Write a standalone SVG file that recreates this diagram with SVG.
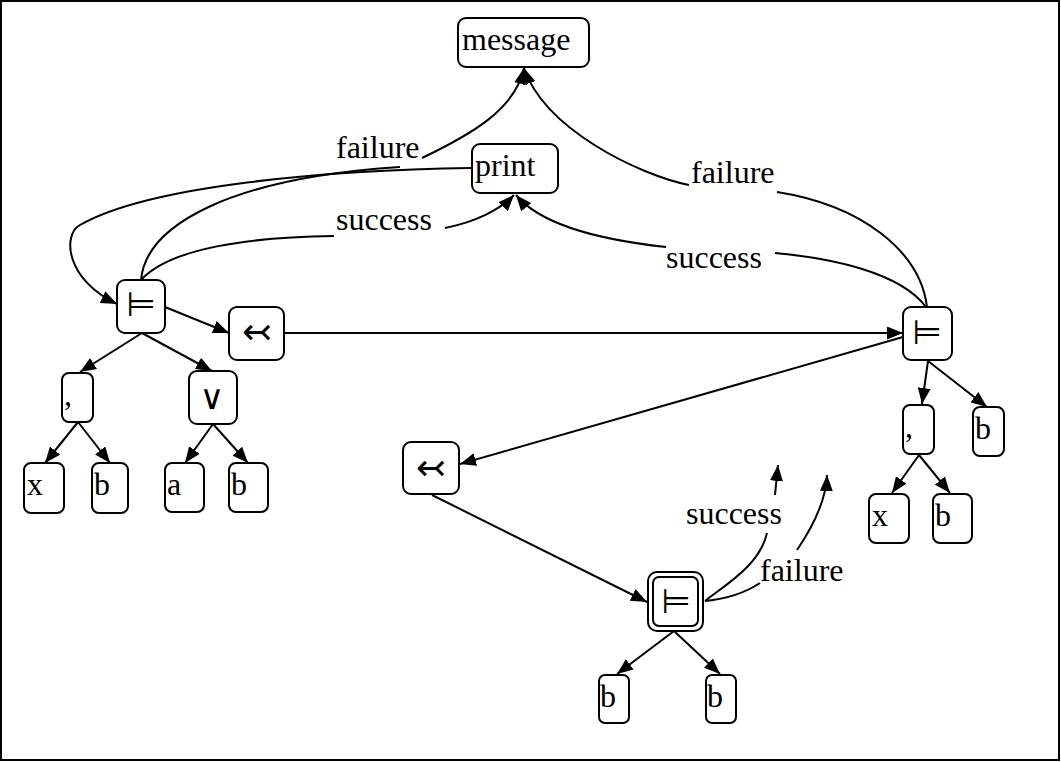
<svg xmlns="http://www.w3.org/2000/svg" width="1061" height="762" viewBox="0 0 1061 762">
<style>
.box{fill:#fff;stroke:#000;stroke-width:2}
.t{font-family:"Liberation Serif","Times New Roman",serif;font-size:32px;fill:#000}
.s{font-family:"DejaVu Sans",sans-serif;font-size:34px;fill:#000;text-anchor:middle;dominant-baseline:central}
.e{fill:none;stroke:#000;stroke-width:2}
.a{marker-end:url(#ah)}
</style>
<defs>
<marker id="ah" markerUnits="userSpaceOnUse" markerWidth="17" markerHeight="13" refX="16" refY="6.5" orient="auto">
<path d="M0,0 L16,6.5 L0,13 z" fill="#000"/>
</marker>
</defs>
<rect x="1" y="1" width="1058" height="759" fill="#fff" stroke="#000" stroke-width="2"/>
<g id="connectors">
<path class="e a" d="M142,333 L80,372"/>
<path class="e a" d="M142,333 L212,371"/>
<path class="e a" d="M78,422 L45,463"/>
<path class="e a" d="M78,422 L110,463"/>
<path class="e a" d="M213,424 L185,463"/>
<path class="e a" d="M213,424 L248,463"/>
<path class="e a" d="M165,307 L229,333"/>
<path class="e a" d="M284,333 L903,333"/>
<path class="e a" d="M903,337 L460,464"/>
<path class="e a" d="M432,495 L647,602"/>
<path class="e a" d="M674,631 L617,674"/>
<path class="e a" d="M674,631 L720,674"/>
<path class="e a" d="M928,361 L922,404"/>
<path class="e a" d="M928,361 L987,407"/>
<path class="e a" d="M919,455 L892,493"/>
<path class="e a" d="M919,455 L950,493"/>
<!-- left success -->
<path class="e" d="M141,280 C170,248 250,237 334,236"/>
<path class="e a" d="M445,228 C475,222 500,210 514,195"/>
<!-- left failure -->
<path class="e" d="M141,280 C146,225 230,178 400,167"/>
<path class="e a" d="M422,158 C470,135 515,110 524,68"/>
<!-- print back to left turnstile -->
<path class="e a" d="M472,168 C330,170 150,185 80,225 C62,235 66,280 117,304"/>
<!-- right failure -->
<path class="e" d="M927,307 C920,250 860,205 777,192"/>
<path class="e a" d="M689,185 C640,175 545,130 524,68"/>
<!-- right success -->
<path class="e" d="M926,307 C900,272 830,258 775,253"/>
<path class="e a" d="M666,247 C620,242 545,230 516,195"/>
<!-- bottom success -->
<path class="e" d="M705,601 C725,585 760,565 767,533"/>
<path class="e a" d="M775,495 L778,465"/>
<!-- bottom failure -->
<path class="e" d="M705,601 C725,599 745,593 760,583"/>
<path class="e a" d="M797,550 C812,528 826,500 827,475"/>
</g>
<g id="labels">
<text class="t" x="336" y="158">failure</text>
<text class="t" x="336" y="230">success</text>
<text class="t" x="691" y="183">failure</text>
<text class="t" x="666" y="268">success</text>
<text class="t" x="686" y="524">success</text>
<text class="t" x="760" y="581">failure</text>
</g>
<g id="message"><rect class="box" x="458" y="18" width="131" height="49" rx="8"/><text class="t" x="462" y="50">message</text></g>
<g id="print"><rect class="box" x="472" y="144" width="86" height="49" rx="8"/><text class="t" x="475" y="176">print</text></g>
<g id="turnstile-left"><rect class="box" x="117" y="280" width="48" height="53" rx="8"/><text class="s" x="141" y="304">⊨</text></g>
<g id="tail-left"><rect class="box" x="229" y="307" width="55" height="53" rx="8"/><text class="s" x="257" y="331" style="font-size:36px">↢</text></g>
<g id="turnstile-right"><rect class="box" x="903" y="307" width="49" height="53" rx="8"/><text class="s" x="927" y="332">⊨</text></g>
<g id="comma-left"><rect class="box" x="62" y="373" width="31" height="49" rx="7"/><text class="t" x="64" y="405">,</text></g>
<g id="or"><rect class="box" x="189" y="371" width="48" height="53" rx="8"/><text class="s" x="212" y="397" style="font-size:34px">∨</text></g>
<g id="x-left"><rect class="box" x="24" y="463" width="40" height="50" rx="7"/><text class="t" x="27" y="495">x</text></g>
<g id="b-left1"><rect class="box" x="92" y="463" width="36" height="50" rx="7"/><text class="t" x="94" y="495">b</text></g>
<g id="a-left"><rect class="box" x="165" y="463" width="39" height="49" rx="7"/><text class="t" x="167" y="495">a</text></g>
<g id="b-left2"><rect class="box" x="229" y="463" width="39" height="49" rx="7"/><text class="t" x="231" y="495">b</text></g>
<g id="tail-mid"><rect class="box" x="403" y="442" width="56" height="52" rx="8"/><text class="s" x="431" y="467" style="font-size:36px">↢</text></g>
<g id="turnstile-double"><rect class="box" x="648" y="572" width="55" height="59" rx="9"/><rect class="box" x="653" y="577" width="45" height="49" rx="6"/><text class="s" x="676" y="601">⊨</text></g>
<g id="b-bot1"><rect class="box" x="599" y="675" width="30" height="48" rx="6"/><text class="t" x="600" y="707">b</text></g>
<g id="b-bot2"><rect class="box" x="706" y="675" width="30" height="48" rx="6"/><text class="t" x="707" y="707">b</text></g>
<g id="comma-right"><rect class="box" x="903" y="405" width="31" height="49" rx="7"/><text class="t" x="905" y="437">,</text></g>
<g id="b-right"><rect class="box" x="973" y="407" width="31" height="49" rx="7"/><text class="t" x="975" y="439">b</text></g>
<g id="x-right"><rect class="box" x="869" y="494" width="40" height="49" rx="7"/><text class="t" x="872" y="526">x</text></g>
<g id="b-right2"><rect class="box" x="933" y="494" width="39" height="49" rx="7"/><text class="t" x="935" y="526">b</text></g>
</svg>
